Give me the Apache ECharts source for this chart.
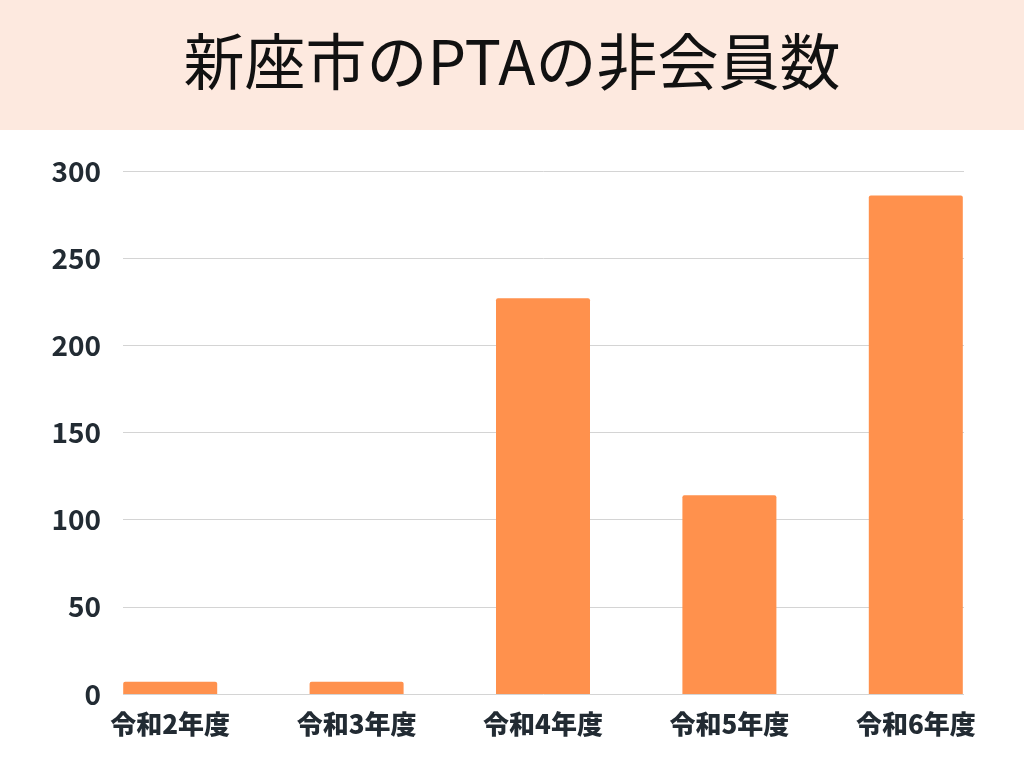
<!DOCTYPE html>
<html>
<head>
<meta charset="utf-8">
<script src="https://cdn.jsdelivr.net/npm/echarts@6/dist/echarts.min.js"></script>
<style>
  html, body { margin: 0; padding: 0; background: #fff; }
  #chart { width: 1024px; height: 768px; }
</style>
</head>
<body>
<div id="chart"></div>
<script>
var titleText = '新座市のPTAの非会員数';
var categories = ['令和2年度', '令和3年度', '令和4年度', '令和5年度', '令和6年度'];
var values = [7, 7, 227, 114, 286];
var yMin = 0, yMax = 300, yStep = 50;

var myChart = echarts.init(document.getElementById('chart'));
var font = '"Noto Sans CJK JP", "Noto Sans", sans-serif';

var option = {
    backgroundColor: '#ffffff',
    animation: false,
    graphic: [
        {
            type: 'rect',
            left: 0, top: 0,
            shape: { width: 1024, height: 130 },
            style: { fill: '#fde9df' },
            z: -10
        },
        {
            type: 'text',
            left: 'center',
            top: 31,
            style: {
                text: titleText,
                font: '400 61px ' + font,
                fill: '#111111'
            }
        }
    ],
    grid: [
        // grid for the y labels and grid lines
        { left: 123, right: 60, top: 171, bottom: 74 },
        // wider grid for the bars so the outer bars sit flush with the lines
        { left: 77, right: 15, top: 171, bottom: 74 }
    ],
    xAxis: [
        { gridIndex: 0, type: 'category', data: categories, show: false },
        {
            gridIndex: 1,
            type: 'category',
            data: categories,
            axisLine: { show: false },
            axisTick: { show: false },
            axisLabel: {
                margin: 17,
                fontSize: 26,
                fontWeight: 900,
                fontFamily: font,
                color: '#222b33'
            }
        }
    ],
    yAxis: [
        {
            gridIndex: 0,
            type: 'value',
            min: yMin, max: yMax, interval: yStep,
            axisLine: { show: false },
            axisTick: { show: false },
            axisLabel: {
                margin: 22,
                fontSize: 28,
                fontWeight: 'bold',
                fontFamily: font,
                color: '#222b33'
            },
            splitLine: { lineStyle: { color: '#d4d4d4', width: 1 } }
        },
        {
            gridIndex: 1,
            type: 'value',
            min: yMin, max: yMax, interval: yStep,
            show: false,
            splitLine: { show: false }
        }
    ],
    series: [{
        type: 'bar',
        xAxisIndex: 1,
        yAxisIndex: 1,
        data: values,
        barWidth: 94,
        itemStyle: { color: '#ff914d', borderRadius: [2, 2, 0, 0] }
    }]
};

myChart.setOption(option);
</script>
</body>
</html>
